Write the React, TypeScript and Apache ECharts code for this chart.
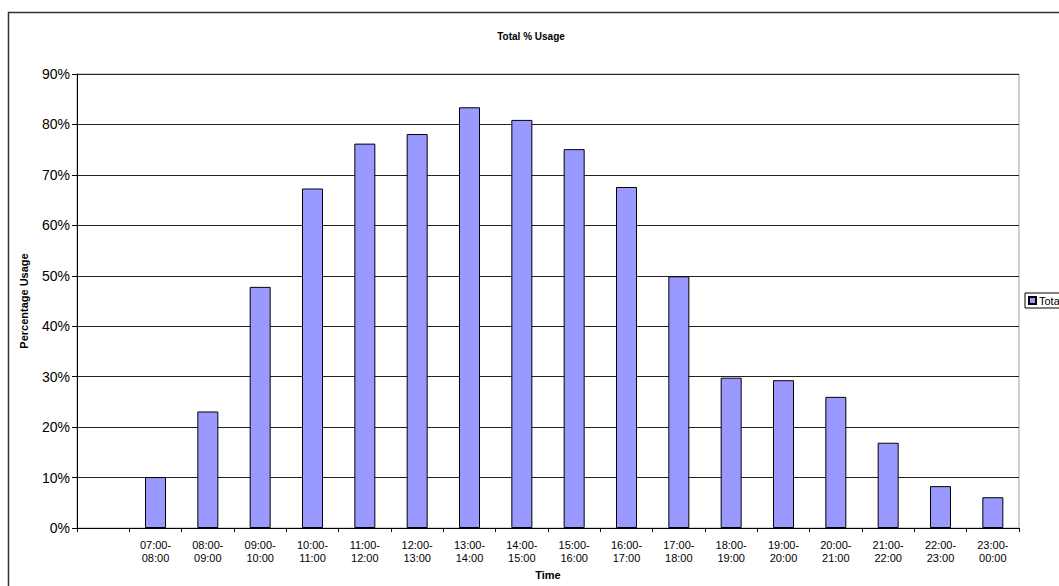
import React, { useEffect, useRef } from "react";
import * as echarts from "echarts";

const categories = [
  "",
  "07:00-\n08:00",
  "08:00-\n09:00",
  "09:00-\n10:00",
  "10:00-\n11:00",
  "11:00-\n12:00",
  "12:00-\n13:00",
  "13:00-\n14:00",
  "14:00-\n15:00",
  "15:00-\n16:00",
  "16:00-\n17:00",
  "17:00-\n18:00",
  "18:00-\n19:00",
  "19:00-\n20:00",
  "20:00-\n21:00",
  "21:00-\n22:00",
  "22:00-\n23:00",
  "23:00-\n00:00",
];
const usage = [null, 10.1, 23.1, 47.8, 67.3, 76.2, 78.1, 83.4, 80.9, 75.1, 67.6, 49.9, 29.8, 29.3, 26.0, 16.9, 8.3, 6.1];
const seriesName = "Total";
const chartTitle = "Total % Usage";
const xTitle = "Time";
const yTitle = "Percentage Usage";

const FONT = "'Liberation Sans', Arial, sans-serif";

export default function App() {
  const ref = useRef<HTMLDivElement>(null);
  useEffect(() => {
    if (!ref.current) return;
    const chart = echarts.init(ref.current, undefined, { renderer: "svg" });
    chart.setOption({
      animation: false,
      backgroundColor: "#ffffff",
      textStyle: { fontFamily: FONT },
      grid: {
        left: 77,
        right: 40,
        top: 74,
        bottom: 58,
        show: true,
        borderColor: "#a0a0a0",
        borderWidth: 1,
        backgroundColor: "transparent",
      },
      legend: {
        show: true,
        left: 1025,
        top: 293,
        orient: "vertical",
        borderColor: "#000",
        borderWidth: 1,
        padding: [2, 4, 2, 3],
        itemWidth: 7,
        itemHeight: 7,
        itemGap: 2,
        icon: "rect",
        textStyle: { fontSize: 11, color: "#000", fontFamily: FONT, padding: [0, 0, 0, -2] },
        data: [seriesName],
      },
      xAxis: {
        type: "category",
        data: categories,
        boundaryGap: true,
        axisLine: { show: true, lineStyle: { color: "#000", width: 1 } },
        axisTick: { show: true, length: 4, interval: 0, lineStyle: { color: "#000" } },
        axisLabel: {
          interval: 0,
          fontSize: 11,
          lineHeight: 13,
          color: "#000",
          margin: 10,
          fontFamily: FONT,
        },
        splitLine: { show: false },
      },
      yAxis: {
        type: "value",
        min: 0,
        max: 90,
        interval: 10,
        axisLine: { show: true, lineStyle: { color: "#000", width: 1 } },
        axisTick: { show: true, length: 5, lineStyle: { color: "#000" } },
        axisLabel: {
          formatter: "{value}%",
          fontSize: 14,
          color: "#000",
          margin: 7,
          fontFamily: FONT,
        },
        splitLine: { show: true, lineStyle: { color: "#222", width: 1 } },
      },
      series: [
        {
          name: seriesName,
          type: "bar",
          data: usage,
          barWidth: 21,
          itemStyle: { color: "#9999ff", borderColor: "#000", borderWidth: 1 },
        },
      ],
      graphic: [
        {
          type: "rect",
          shape: { x: 8.5, y: 12.5, width: 1200, height: 700 },
          style: { fill: "none", stroke: "#333", lineWidth: 1.5 },
          silent: true,
          z: -1,
        },
        {
          type: "text",
          x: 531,
          y: 36,
          style: {
            text: chartTitle,
            fontSize: 10,
            fontWeight: "bold",
            fill: "#000",
            fontFamily: FONT,
            align: "center",
            verticalAlign: "middle",
          },
        },
        {
          type: "text",
          x: 548,
          y: 575,
          style: {
            text: xTitle,
            fontSize: 11,
            fontWeight: "bold",
            fill: "#000",
            fontFamily: FONT,
            align: "center",
            verticalAlign: "middle",
          },
        },
        {
          type: "text",
          x: 24,
          y: 301,
          rotation: Math.PI / 2,
          style: {
            text: yTitle,
            fontSize: 11,
            fontWeight: "bold",
            fill: "#000",
            fontFamily: FONT,
            align: "center",
            verticalAlign: "middle",
          },
        },
      ],
    });
    return () => chart.dispose();
  }, []);
  return (
    <div
      ref={ref}
      style={{ position: "absolute", left: 0, top: 0, width: 1059, height: 586 }}
    />
  );
}
